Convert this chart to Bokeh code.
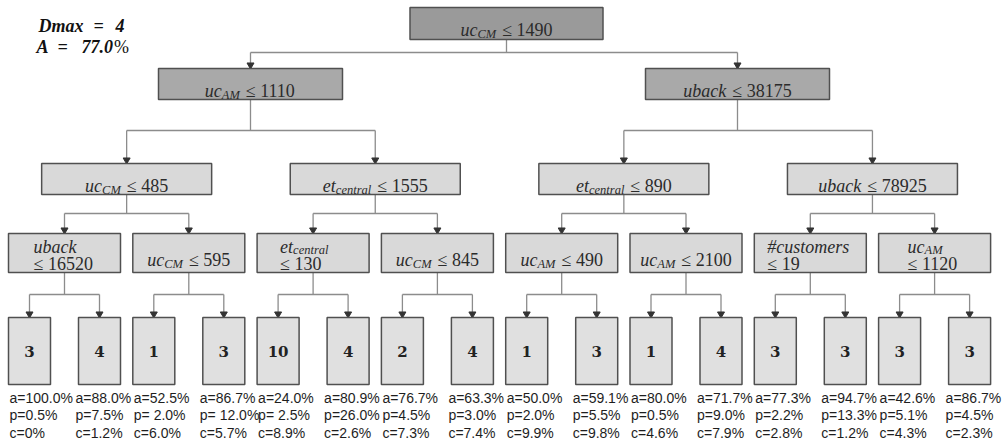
from bokeh.plotting import figure
from bokeh.models import Range1d
from bokeh.core.properties import value
from bokeh.embed import file_html
from bokeh.resources import INLINE

# ---------------- data ----------------
# internal nodes in heap order (0 = root, 1-2 depth 1, 3-6 depth 2, 7-14 depth 3)
node_feature = ["uc|CM", "uc|AM", "uback", "uc|CM", "et|central", "et|central", "uback",
                "uback", "uc|CM", "et|central", "uc|CM", "uc|AM", "uc|AM", "#customers", "uc|AM"]
node_threshold = [1490, 1110, 38175, 485, 1555, 890, 78925,
                  16520, 595, 130, 845, 490, 2100, 19, 1120]
# leaves (children of depth-3 nodes, left to right)
leaf_class = [3, 4, 1, 3, 10, 4, 2, 4, 1, 3, 1, 4, 3, 3, 3, 3]
leaf_a = ["100.0%", "88.0%", "52.5%", "86.7%", "24.0%", "80.9%", "76.7%", "63.3%",
          "50.0%", "59.1%", "80.0%", "71.7%", "77.3%", "94.7%", "42.6%", "86.7%"]
leaf_p = ["0.5%", "7.5%", " 2.0%", " 12.0%", " 2.5%", "26.0%", "4.5%", "3.0%",
          "2.0%", "5.5%", "0.5%", "9.0%", "2.2%", "13.3%", "5.1%", "4.5%"]
leaf_c = ["0%", "1.2%", "6.0%", "5.7%", "8.9%", "2.6%", "7.3%", "7.4%",
          "9.9%", "9.8%", "4.6%", "7.9%", "2.8%", "1.2%", "4.3%", "2.3%"]
dmax = 4
accuracy = 77.0

# ---------------- layout ----------------
L3_X0, L3_STEP = 64.0, 124.3
x3 = [L3_X0 + i * L3_STEP for i in range(8)]
x2 = [(x3[2 * i] + x3[2 * i + 1]) / 2 for i in range(4)]
x1 = [250.0, 737.0]
x0 = [506.0]
node_x = x0 + x1 + x2 + x3
level_of = [0] + [1] * 2 + [2] * 4 + [3] * 8
LV = {  # width, top, bottom, fill, bus-y to children
    0: (193, 7, 39, "#9a9a9a", 52),
    1: (184, 68, 99, "#a9a9a9", 130),
    2: (170, 163, 194, "#d9d9d9", 213),
    3: (112, 233, 272, "#d9d9d9", 294),
}
LEAF_W, LEAF_TOP, LEAF_BOT = 42, 317, 384
leaf_x = []
for k in range(8):
    leaf_x += [x3[k] - 35, x3[k] + 35]

BORDER = "#505050"
CONN = "#8c8c8c"
TXT = "#2b2b2b"

p = figure(width=1006, height=444, x_range=Range1d(0, 1006), y_range=Range1d(444, 0),
           output_backend="svg", toolbar_location=None, min_border=0,
           x_axis_location=None, y_axis_location=None)
p.xgrid.visible = False
p.ygrid.visible = False
p.outline_line_color = None
p.background_fill_color = "white"

# ---------------- connectors ----------------
xs, ys, ax, ay = [], [], [], []
for n in range(15):
    w, top, bot, fill, bus = LV[level_of[n]]
    cx = node_x[n]
    if n < 7:
        c1, c2 = 2 * n + 1, 2 * n + 2
        cx1, cx2 = node_x[c1], node_x[c2]
        ctop = LV[level_of[c1]][1]
    else:
        k = n - 7
        cx1, cx2 = leaf_x[2 * k], leaf_x[2 * k + 1]
        ctop = LEAF_TOP
    xs += [[cx, cx], [cx1, cx2], [cx1, cx1], [cx2, cx2]]
    ys += [[bot, bus], [bus, bus], [bus, ctop - 4], [bus, ctop - 4]]
    ax += [cx1, cx2]
    ay += [ctop - 3.5, ctop - 3.5]
p.multi_line(xs, ys, line_color=CONN, line_width=1.3)
p.scatter(ax, ay, marker="inverted_triangle", size=7, fill_color="#333333",
          line_color="#333333")

# ---------------- boxes ----------------
for lv in range(4):
    ids = [n for n in range(15) if level_of[n] == lv]
    w, top, bot, fill, bus = LV[lv]
    p.quad(left=[node_x[n] - w / 2 for n in ids], right=[node_x[n] + w / 2 for n in ids],
           top=[top] * len(ids), bottom=[bot] * len(ids),
           fill_color=fill, line_color=BORDER, line_width=1.5)
p.quad(left=[x - LEAF_W / 2 for x in leaf_x], right=[x + LEAF_W / 2 for x in leaf_x],
       top=[LEAF_TOP] * 16, bottom=[LEAF_BOT] * 16,
       fill_color="#e0e0e0", line_color=BORDER, line_width=1.5)

# ---------------- node labels ----------------
MAIN, SUB = 18, 12.5
IT = dict(u=500, c=444, b=500, a=500, k=444, e=444, t=278, n=500, r=389, l=278, s=389,
          o=500, m=722, A=611, M=833, C=667)
IT["#"] = 500


def w_it(s, size):
    return sum(IT.get(ch, 500) for ch in s) * size / 1000


def w_rm(s, size):
    return sum({" ": 250, "\u2264": 549}.get(ch, 500) for ch in s) * size / 1000


TWO_LINE = {7: 25, 9: 23, 13: 13, 14: 29}
GAP = 6
pieces = {"it": ([], [], []), "sub": ([], [], []), "rm": ([], [], [])}


def put(kind, x, y, s):
    pieces[kind][0].append(x)
    pieces[kind][1].append(y)
    pieces[kind][2].append(s)


for n in range(15):
    w, top, bot, fill, bus = LV[level_of[n]]
    feat = node_feature[n]
    base, sub = (feat.split("|") + [""])[:2]
    thr = "\u2264 %d" % node_threshold[n]
    wb, ws = w_it(base, MAIN), w_it(sub, SUB)
    if n in TWO_LINE:
        x = node_x[n] - w / 2 + TWO_LINE[n]
        b1, b2 = top + 13, top + 30
        put("it", x, b1, base)
        if sub:
            put("sub", x + wb, b1 + 3.5, sub)
        put("rm", x, b2, thr)
    else:
        total = wb + ws + GAP + w_rm(thr, MAIN)
        x = node_x[n] - total / 2
        bl = (top + bot) / 2 + 6.5
        put("it", x, bl, base)
        if sub:
            put("sub", x + wb, bl + 4, sub)
        put("rm", x + wb + ws + GAP, bl, thr)

SERIF = value("Liberation Serif")
p.text(pieces["it"][0], pieces["it"][1], text=pieces["it"][2], text_font=SERIF,
       text_font_style="italic", text_font_size="%dpx" % MAIN, text_color=TXT,
       text_align="left", text_baseline="alphabetic")
p.text(pieces["sub"][0], pieces["sub"][1], text=pieces["sub"][2], text_font=SERIF,
       text_font_style="italic", text_font_size="%.1fpx" % SUB, text_color=TXT,
       text_align="left", text_baseline="alphabetic")
p.text(pieces["rm"][0], pieces["rm"][1], text=pieces["rm"][2], text_font=SERIF,
       text_font_style="normal", text_font_size="%dpx" % MAIN, text_color=TXT,
       text_align="left", text_baseline="alphabetic")

# ---------------- leaves ----------------
p.text(leaf_x, [351] * 16, text=[str(c) for c in leaf_class], text_font=value("DejaVu Serif"),
       text_font_style="bold", text_font_size="15px", text_color="#222222",
       text_align="center", text_baseline="middle")
lx = [x - LEAF_W / 2 + (1 if i % 2 == 0 else -3) for i, x in enumerate(leaf_x)]
SANS = value("Liberation Sans")
for yy, pre, vals in [(397, "a=", leaf_a), (414.5, "p=", leaf_p), (432, "c=", leaf_c)]:
    p.text(lx, [yy] * 16, text=[pre + v for v in vals], text_font=SANS,
           text_font_size="14px", text_color="#1e1e1e",
           text_align="left", text_baseline="middle")

# ---------------- header ----------------
acc = "%.1f" % accuracy
p.text([38, 93, 115], [25, 25, 25], text=["Dmax", "=", str(dmax)], text_font=SERIF,
       text_font_style="bold italic", text_font_size="18px", text_color="#111111",
       text_align="left", text_baseline="alphabetic")
acc_w = sum(250 if ch == "." else 500 for ch in acc) * 18 / 1000
p.text([36, 57, 81], [46, 46, 46], text=["A", "=", acc], text_font=SERIF,
       text_font_style="bold italic", text_font_size="18px", text_color="#111111",
       text_align="left", text_baseline="alphabetic")
p.text([81 + acc_w + 1], [46], text=["%"], text_font=SERIF,
       text_font_style="normal", text_font_size="18px", text_color="#111111",
       text_align="left", text_baseline="alphabetic")

open("out.html", "w").write(file_html(p, INLINE))
